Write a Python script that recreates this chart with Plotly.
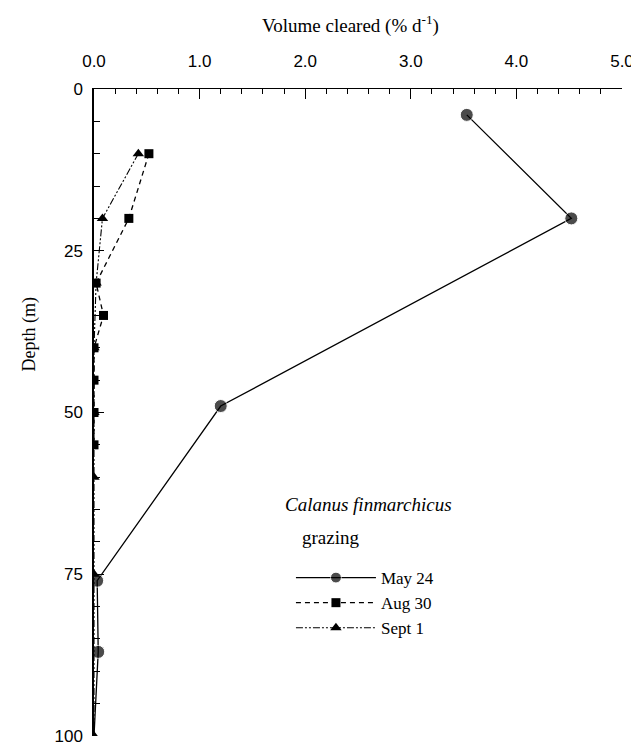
import plotly.graph_objects as go

# Data
may_depth = [4, 20, 49, 76, 87, 100]
may_vol = [3.53, 4.52, 1.2, 0.03, 0.04, 0.0]
may_marker_size = [13, 13, 13, 13, 13, 0]

aug_depth = [10, 20, 30, 35, 40, 45, 50, 55]
aug_vol = [0.52, 0.33, 0.02, 0.09, 0.0, 0.0, 0.0, 0.0]

sept_depth = [10, 20, 30, 40, 50, 60, 75, 100]
sept_vol = [0.42, 0.08, 0.02, 0.0, 0.0, 0.0, 0.0, 0.0]

x_ticks = [0, 1, 2, 3, 4, 5]
x_tick_labels = ["0.0", "1.0", "2.0", "3.0", "4.0", "5.0"]
y_ticks = [0, 25, 50, 75, 100]
y_tick_labels = ["0", "25", "50", "75", "100"]

serif = "Liberation Serif"
sans = "Liberation Sans"

fig = go.Figure()
fig.add_trace(go.Scatter(
    x=may_vol, y=may_depth, name="May 24", mode="lines+markers",
    line=dict(color="black", width=1.3),
    marker=dict(symbol="circle", size=may_marker_size, color="black"),
))
fig.add_trace(go.Scatter(
    x=aug_vol, y=aug_depth, name="Aug 30", mode="lines+markers",
    line=dict(color="black", width=1.3, dash="5px,4px"),
    marker=dict(symbol="square", size=9, color="black"),
))
fig.add_trace(go.Scatter(
    x=sept_vol, y=sept_depth, name="Sept 1", mode="lines+markers",
    line=dict(color="black", width=1.1, dash="7px,2px,2px,2px,2px,2px"),
    marker=dict(symbol="triangle-up", size=10, color="black"),
))

fig.update_layout(
    width=639, height=748,
    margin=dict(l=86, r=25, t=81, b=20),
    paper_bgcolor="white", plot_bgcolor="white",
    showlegend=True,
    legend=dict(x=0.373, y=0.272, xanchor="left", yanchor="top",
                font=dict(family=serif, size=17, color="black"),
                bgcolor="rgba(0,0,0,0)", itemwidth=80, tracegroupgap=0),
    xaxis=dict(
        side="top", range=[0, 5], tickvals=x_ticks, ticktext=x_tick_labels,
        ticks="inside", ticklen=10, tickcolor="black", tickwidth=1.2,
        minor=dict(dtick=0.2, ticks="inside", ticklen=5, tickcolor="black", tickwidth=1),
        showline=True, linecolor="black", linewidth=1.2, showgrid=False, zeroline=False,
        tickfont=dict(family=sans, size=17, color="black"),
        ticklabelstandoff=14, automargin=False,
    ),
    yaxis=dict(
        range=[100, 0], tickvals=y_ticks, ticktext=y_tick_labels,
        ticks="inside", ticklen=10, tickcolor="black", tickwidth=1.2,
        minor=dict(dtick=5, ticks="inside", ticklen=6, tickcolor="black", tickwidth=1),
        showline=True, linecolor="black", linewidth=1.5, showgrid=False, zeroline=False,
        tickfont=dict(family=sans, size=17, color="black"),
        ticklabelstandoff=6, automargin=False,
    ),
)

fig.add_annotation(text="Volume cleared (% d<sup>-1</sup>)", xref="paper", yref="paper",
                   x=0.486, y=1.1, xanchor="center", yanchor="middle", showarrow=False,
                   font=dict(family=serif, size=19, color="black"))
fig.add_annotation(text="Depth (m)", xref="paper", yref="paper", x=-0.122, y=0.62,
                   xanchor="center", yanchor="middle",
                   textangle=-90, showarrow=False, font=dict(family=serif, size=18, color="black"))
fig.add_annotation(text="<i>Calanus finmarchicus</i>", xref="paper", yref="paper", x=0.52, y=0.358,
                   showarrow=False, xanchor="center", font=dict(family=serif, size=19, color="black"))
fig.add_annotation(text="grazing", xref="paper", yref="paper", x=0.447, y=0.288,
                   showarrow=False, xanchor="center", font=dict(family=serif, size=19, color="black"))

fig.write_html("out.html")
